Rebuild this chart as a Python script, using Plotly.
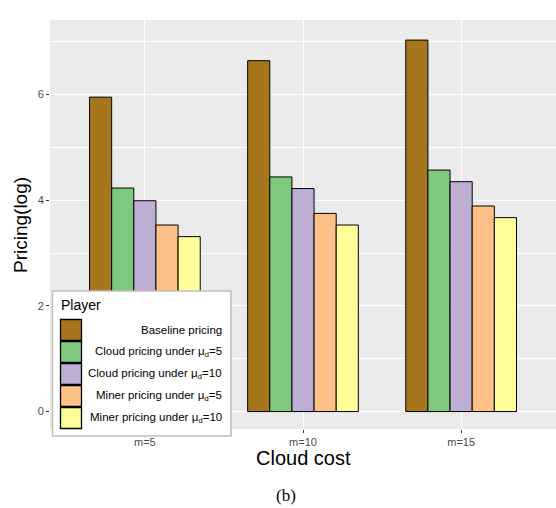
import plotly.graph_objects as go

# Pricing (log scale) by cloud cost level and player
categories = ["m=5", "m=10", "m=15"]
series_names = [
    "Baseline pricing",
    "Cloud pricing under μ<sub>d</sub>=5",
    "Cloud pricing under μ<sub>d</sub>=10",
    "Miner pricing under μ<sub>d</sub>=5",
    "Miner pricing under μ<sub>d</sub>=10",
]
baseline = [5.95, 6.64, 7.03]
cloud_mu5 = [4.23, 4.44, 4.57]
cloud_mu10 = [3.99, 4.22, 4.35]
miner_mu5 = [3.53, 3.75, 3.89]
miner_mu10 = [3.31, 3.53, 3.67]
y_ticks = [0, 2, 4, 6]

colors = ["#A6761D", "#7FC97F", "#BEAED4", "#FDC086", "#FFFF99"]
values = [baseline, cloud_mu5, cloud_mu10, miner_mu5, miner_mu10]

FONT = "Liberation Sans, Arial, sans-serif"
W, H = 556, 508
L, R, T, B = 50, 0, 20, 79
PW, PH = W - L - R, H - T - B


def px(x):
    return (x - L) / PW


def py(y):
    return (H - B - y) / PH


fig = go.Figure()
for name, vals, col in zip(series_names, values, colors):
    fig.add_trace(go.Bar(
        x=categories, y=vals, name=name,
        marker=dict(color=col, line=dict(color="#000000", width=1)),
        showlegend=False,
    ))

shapes = []
annotations = []

# Legend panel drawn in paper coordinates
shapes.append(dict(type="rect", xref="paper", yref="paper",
                   x0=px(52.5), x1=px(231), y0=py(436), y1=py(291),
                   fillcolor="#FFFFFF", line=dict(color="#BEBEBE", width=1.5),
                   layer="above"))
annotations.append(dict(text="Player", xref="paper", yref="paper",
                        x=px(59), y=py(305), xanchor="left", yanchor="middle",
                        showarrow=False, font=dict(family=FONT, size=14, color="#000000")))
row_centers = [330, 352, 374, 396, 418]
for name, col, cy in zip(series_names, colors, row_centers):
    shapes.append(dict(type="rect", xref="paper", yref="paper",
                       x0=px(60.5), x1=px(81.5), y0=py(cy + 10.5), y1=py(cy - 10.5),
                       fillcolor=col, line=dict(color="#000000", width=1.3),
                       layer="above"))
    annotations.append(dict(text=name, xref="paper", yref="paper",
                            x=px(223.5), y=py(cy), xanchor="right", yanchor="middle",
                            showarrow=False,
                            font=dict(family=FONT, size=11.5, color="#000000")))

# Axis titles and caption
annotations.append(dict(text="Cloud cost", xref="paper", yref="paper",
                        x=0.5, y=py(458), xanchor="center", yanchor="middle",
                        showarrow=False, font=dict(family=FONT, size=20, color="#000000")))
annotations.append(dict(text="Pricing(log)", xref="paper", yref="paper",
                        x=px(21), y=py(225), xanchor="center", yanchor="middle",
                        textangle=-90, showarrow=False,
                        font=dict(family=FONT, size=19, color="#000000")))
annotations.append(dict(text="(b)", xref="paper", yref="paper",
                        x=px(286), y=py(495), xanchor="center", yanchor="middle",
                        showarrow=False,
                        font=dict(family="Liberation Serif, Times New Roman, serif",
                                  size=17, color="#000000")))

fig.update_layout(
    width=W, height=H,
    margin=dict(l=L, r=R, t=T, b=B, pad=0),
    paper_bgcolor="#FFFFFF", plot_bgcolor="#EBEBEB",
    barmode="group", bargap=0.3, bargroupgap=0,
    font=dict(family=FONT),
    shapes=shapes, annotations=annotations,
    xaxis=dict(
        type="category", range=[-0.6, 2.6],
        showgrid=True, gridcolor="#FFFFFF", gridwidth=1.2,
        ticks="outside", ticklen=3, tickwidth=1, tickcolor="#333333",
        tickfont=dict(family=FONT, size=11, color="#4D4D4D"),
        showline=False, zeroline=False,
    ),
    yaxis=dict(
        range=[-0.33, 7.41],
        tickvals=y_ticks, ticktext=[str(v) for v in y_ticks],
        showgrid=True, gridcolor="#FFFFFF", gridwidth=1.2,
        minor=dict(tickvals=[1, 3, 5, 7], showgrid=True, gridcolor="#FFFFFF",
                   gridwidth=0.6, ticks=""),
        ticks="outside", ticklen=3, tickwidth=1, tickcolor="#333333",
        tickfont=dict(family=FONT, size=11, color="#4D4D4D"),
        showline=False, zeroline=False,
    ),
)

fig.write_html("out.html")
